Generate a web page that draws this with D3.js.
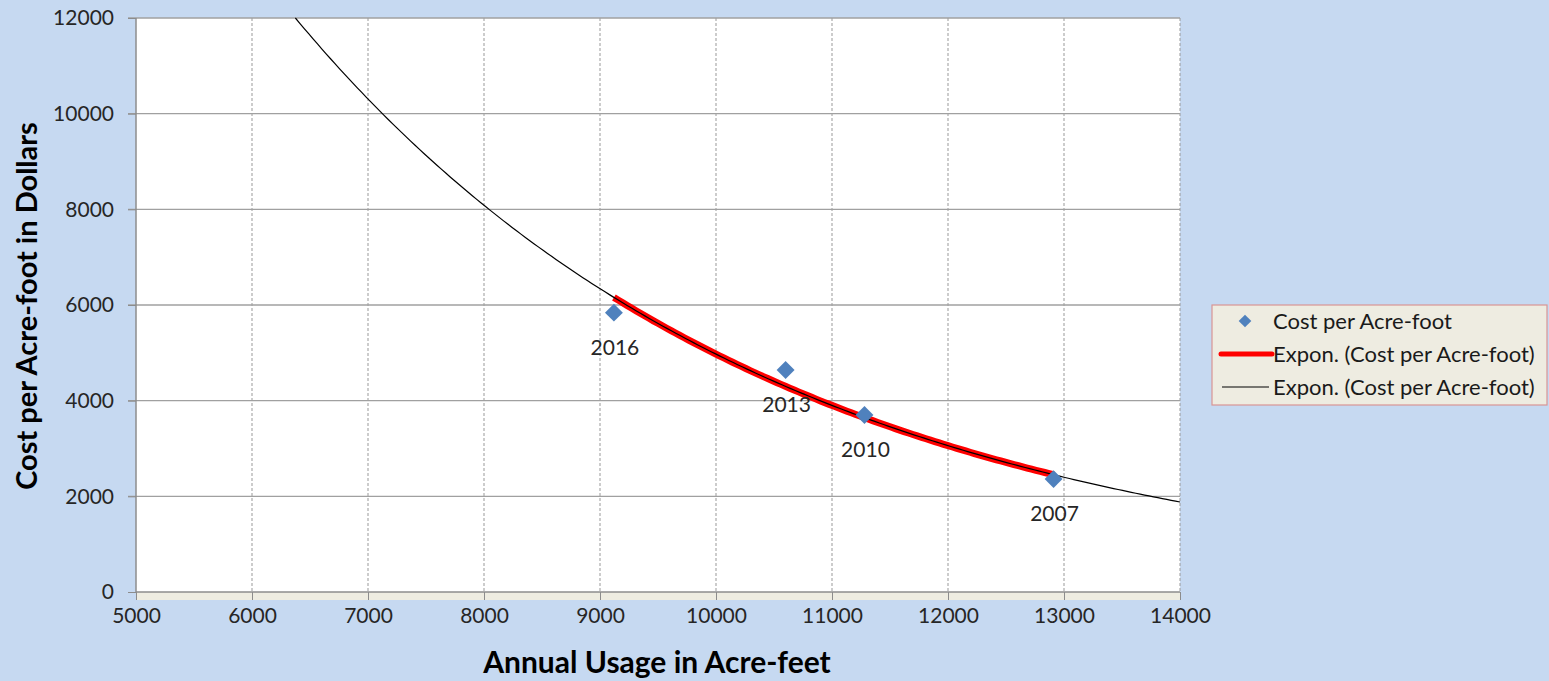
<!DOCTYPE html>
<html>
<head>
<meta charset="utf-8">
<script src="https://cdn.jsdelivr.net/npm/d3@7"></script>
<style>
  html, body { margin: 0; background: #c6d9f1; overflow: hidden; }
  svg { display: block; font-family: Lato, "Open Sans", sans-serif; }
</style>
</head>
<body>
<div id="chart"></div>
<script>
// data
const years = ['2016', '2013', '2010', '2007']
const usage = [9120, 10600, 11280, 12910]
const cost = [5840, 4640, 3700, 2360]
const xTicks = [5000, 6000, 7000, 8000, 9000, 10000, 11000, 12000, 13000, 14000]
const yTicks = [0, 2000, 4000, 6000, 8000, 10000, 12000]
const legendLabels = ['Cost per Acre-foot', 'Expon. (Cost per Acre-foot)', 'Expon. (Cost per Acre-foot)']

const points = years.map((y, i) => ({ year: y, x: usage[i], y: cost[i] }))

const width = 1549
const height = 681
const margin = { top: 18, left: 136, right: 369, bottom: 89 }
const innerWidth = width - margin.left - margin.right
const innerHeight = height - margin.top - margin.bottom
const fontSize = 21

// exponential fit (least squares on ln y), like the spreadsheet trendline
const mx = d3.mean(points, d => d.x)
const my = d3.mean(points, d => Math.log(d.y))
const b = d3.sum(points, d => (d.x - mx) * (Math.log(d.y) - my)) / d3.sum(points, d => (d.x - mx) ** 2)
const lnA = my - b * mx
const fit = x => Math.exp(lnA + b * x)

const svg = d3.select('#chart').append('svg')
  .attr('width', width)
  .attr('height', height)

const main = svg.append('g')
  .attr('transform', `translate(${margin.left}, ${margin.top})`)

const xScale = d3.scaleLinear().domain([5000, 14000]).range([0, innerWidth])
const yScale = d3.scaleLinear().domain([0, 12000]).range([innerHeight, 0])

// plot area
main.append('rect')
  .attr('x', 0).attr('y', innerHeight)
  .attr('width', innerWidth).attr('height', 8)
  .attr('fill', '#eeece1')
main.append('rect')
  .attr('width', innerWidth).attr('height', innerHeight)
  .attr('fill', '#ffffff')

// grid
main.append('g').selectAll('line')
  .data(xTicks.slice(1))
  .enter().append('line')
  .attr('x1', d => xScale(d)).attr('x2', d => xScale(d))
  .attr('y1', 0).attr('y2', innerHeight)
  .attr('stroke', '#999999')
  .attr('stroke-dasharray', '3,2')

main.append('g').selectAll('line')
  .data(yTicks.slice(1))
  .enter().append('line')
  .attr('x1', -8).attr('x2', innerWidth)
  .attr('y1', d => yScale(d)).attr('y2', d => yScale(d))
  .attr('stroke', '#a0a0a0')
  .attr('stroke-width', 1.3)

// axes
const xAxis = d3.axisBottom(xScale).tickValues(xTicks).tickSize(8).tickPadding(8).tickFormat(d3.format(''))
const yAxis = d3.axisLeft(yScale).tickValues(yTicks).tickSize(8).tickPadding(14).tickFormat(d3.format(''))

const gx = main.append('g')
  .attr('transform', `translate(0, ${innerHeight})`)
  .call(xAxis)
const gy = main.append('g').call(yAxis)

;[gx, gy].forEach(g => {
  g.select('.domain').attr('stroke', '#8c8c8c').attr('stroke-width', 1.5)
  g.selectAll('.tick line').attr('stroke', '#8c8c8c')
  g.selectAll('.tick text').attr('fill', '#262626').style('font-size', fontSize + 'px').style('font-family', 'Lato, sans-serif')
})
gx.select('.domain').attr('d', `M0,0H${innerWidth}`)
gy.select('.domain').attr('d', `M0,0V${innerHeight}`)

// trendlines
const line = d3.line().x(d => xScale(d[0])).y(d => yScale(d[1]))
const xStartBlack = (Math.log(12000) - lnA) / b
const blackPts = d3.range(0, 201).map(i => {
  const x = xStartBlack + (14000 - xStartBlack) * i / 200
  return [x, fit(x)]
})
const xMin = d3.min(usage)
const xMax = d3.max(usage)
const redPts = d3.range(0, 101).map(i => {
  const x = xMin + (xMax - xMin) * i / 100
  return [x, fit(x)]
})

main.append('path')
  .datum(redPts)
  .attr('d', line)
  .attr('fill', 'none')
  .attr('stroke', '#ff0000')
  .attr('stroke-width', 7)

main.append('path')
  .datum(blackPts)
  .attr('d', line)
  .attr('fill', 'none')
  .attr('stroke', '#000000')
  .attr('stroke-width', 1.2)

// points
const diamond = d3.symbol().type(d3.symbolSquare).size(160)
main.append('g').selectAll('path')
  .data(points)
  .enter().append('path')
  .attr('d', diamond)
  .attr('transform', d => `translate(${xScale(d.x)}, ${yScale(d.y)}) rotate(45)`)
  .attr('fill', '#4f81bd')

main.append('g').selectAll('text')
  .data(points)
  .enter().append('text')
  .attr('x', d => xScale(d.x) + 1)
  .attr('y', d => yScale(d.y) + 35)
  .attr('dy', '0.35em')
  .attr('text-anchor', 'middle')
  .attr('fill', '#262626')
  .style('font-size', fontSize + 'px')
  .text(d => d.year)

// axis titles
svg.append('text')
  .attr('x', 657)
  .attr('y', 673)
  .attr('text-anchor', 'middle')
  .attr('font-weight', 'bold')
  .attr('fill', '#000')
  .style('font-size', '30px')
  .text('Annual Usage in Acre-feet')

svg.append('text')
  .attr('transform', `translate(37, 306) rotate(-90)`)
  .attr('text-anchor', 'middle')
  .attr('font-weight', 'bold')
  .attr('fill', '#000')
  .style('font-size', '29px')
  .text('Cost per Acre-foot in Dollars')

// legend
const legend = svg.append('g').attr('transform', 'translate(1212, 305)')
legend.append('rect')
  .attr('width', 335).attr('height', 100)
  .attr('fill', '#eeece1')
  .attr('stroke', '#d99594')
  .attr('stroke-width', 1.2)

const rowY = [16, 49, 82]
legend.append('path')
  .attr('d', d3.symbol().type(d3.symbolSquare).size(80))
  .attr('transform', `translate(33, ${rowY[0]}) rotate(45)`)
  .attr('fill', '#4f81bd')
legend.append('line')
  .attr('x1', 9).attr('x2', 60).attr('y1', rowY[1]).attr('y2', rowY[1])
  .attr('stroke', '#ff0000').attr('stroke-width', 5).attr('stroke-linecap', 'round')
legend.append('line')
  .attr('x1', 10).attr('x2', 57).attr('y1', rowY[2]).attr('y2', rowY[2])
  .attr('stroke', '#000').attr('stroke-width', 1)

legend.selectAll('text.lbl')
  .data(legendLabels)
  .enter().append('text')
  .attr('class', 'lbl')
  .attr('x', 61)
  .attr('y', (d, i) => rowY[i])
  .attr('dy', '0.35em')
  .attr('fill', '#1a1a1a')
  .style('font-size', '22px')
  .text(d => d)
</script>
</body>
</html>
